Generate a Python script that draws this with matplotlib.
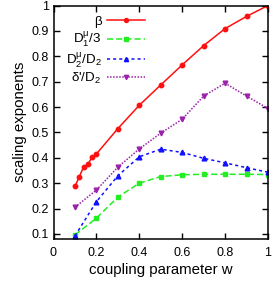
import matplotlib
matplotlib.use("Agg")
import matplotlib.pyplot as plt
from matplotlib.ticker import FuncFormatter

plt.rcParams['font.family'] = ['Liberation Sans', 'DejaVu Sans']
plt.rcParams['mathtext.fontset'] = 'custom'
plt.rcParams['mathtext.rm'] = 'Liberation Sans'
plt.rcParams['mathtext.it'] = 'Liberation Sans'

w_beta = [0.1, 0.12, 0.14, 0.16, 0.18, 0.2, 0.3, 0.4, 0.5, 0.6, 0.7, 0.8, 0.9, 1.0]
beta = [0.287, 0.325, 0.363, 0.375, 0.402, 0.415, 0.515, 0.607, 0.687, 0.766, 0.842, 0.909, 0.957, 1.0]

w = [0.1, 0.2, 0.3, 0.4, 0.5, 0.6, 0.7, 0.8, 0.9, 1.0]
d1 = [0.096, 0.162, 0.245, 0.300, 0.326, 0.333, 0.335, 0.335, 0.335, 0.334]
d2 = [0.092, 0.227, 0.329, 0.404, 0.434, 0.421, 0.398, 0.380, 0.361, 0.343]
delta = [0.205, 0.273, 0.363, 0.435, 0.497, 0.552, 0.643, 0.694, 0.643, 0.594]

labels = ['β', r'D$_1^{\mathrm{μ}}$/3', r'D$_2^{\mathrm{μ}}$/D$_2$', r"δ'/D$_2$"]
xticks = [0, 0.2, 0.4, 0.6, 0.8, 1.0]
yticks = [0.1, 0.2, 0.3, 0.4, 0.5, 0.6, 0.7, 0.8, 0.9, 1.0]

fig = plt.figure(figsize=(2.74, 2.84), dpi=100)
ax = fig.add_axes([53.5/274, 45/284, 214.5/274, 233.5/284])

ax.plot(w_beta, beta, '-', color='#ff1010', marker='o', ms=3.2, lw=1.1, label=labels[0])
ax.plot(w, d1, '--', color='#22ee22', marker='s', ms=3.2, lw=1.1, dashes=(4, 2), label=labels[1])
ax.plot(w, d2, '--', color='#1010ff', marker='^', ms=3.4, lw=1.1, dashes=(2, 2), label=labels[2])
ax.plot(w, delta, ':', color='#9a22aa', marker='v', ms=3.4, lw=1.1, dashes=(1, 1), label=labels[3])

ax.set_xlim(0, 1)
ax.set_ylim(0.08, 1.0)
ax.set_xticks(xticks)
ax.set_yticks(yticks)
fmt = FuncFormatter(lambda v, p: ('%g' % round(v, 2)))
ax.xaxis.set_major_formatter(fmt)
ax.yaxis.set_major_formatter(fmt)
ax.tick_params(direction='in', top=True, right=True, length=4, width=1, labelsize=9)
ax.tick_params(axis='x', pad=5.5)
ax.tick_params(axis='y', pad=3.5)
for s in ax.spines.values():
    s.set_linewidth(1.1)

ax.set_xlabel('coupling parameter w', fontsize=10.8, labelpad=3)
ax.set_ylabel('scaling exponents', fontsize=10.8, labelpad=3)

leg = ax.legend(loc='upper right', bbox_to_anchor=(0.459, 0.985), markerfirst=False,
                frameon=False, fontsize=9.6, handlelength=2.9, handletextpad=0.38,
                labelspacing=0.12, borderpad=0, markerscale=0.9)

fig.savefig('out.png', dpi=100)
